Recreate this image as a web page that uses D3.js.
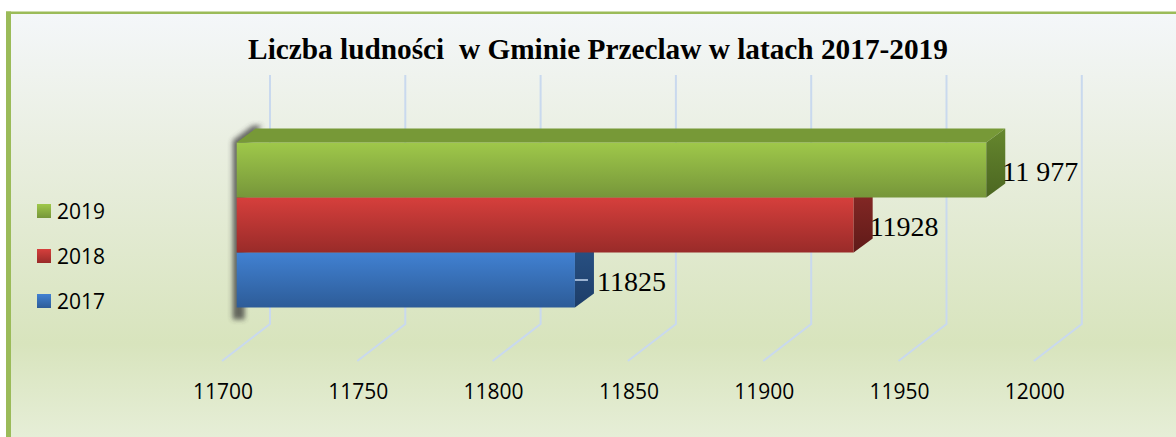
<!DOCTYPE html>
<html>
<head>
<meta charset="utf-8">
<script src="https://cdn.jsdelivr.net/npm/d3@7"></script>
<style>
  html, body { margin: 0; padding: 0; background: #fff; }
  svg { display: block; }
</style>
</head>
<body>
<div id="containerDiv"></div>
<script>
// chart data
const years = ["2019", "2018", "2017"];
const population = [11977, 11928, 11825];
const valueLabels = ["11 977", "11928", "11825"];
const axisTicks = [11700, 11750, 11800, 11850, 11900, 11950, 12000];
const leaderYears = ["2017"]; // labels drawn with a small leader dash
const titleText = "Liczba ludności  w Gminie Przeclaw w latach 2017-2019";

// colours per year: [front top, front bottom, top face, side top, side bottom]
const colors = {
  "2019": ["#9fc84a", "#76963a", "#779937", "#66872e", "#4b6621"],
  "2018": ["#d63f3c", "#992b29", "#a8302d", "#8a2a27", "#5f1a18"],
  "2017": ["#4181d2", "#2d5c98", "#30609c", "#2a5488", "#1d3d68"],
};

const W = 1176, H = 437;
// depth offsets of the 3d box and of the floor
const depthX = 19, depthY = 14;
const wallX = 33.3, floorX = 48, floorY = 37;
const wallTop = 75, wallBottom = 324;

const svg = d3
  .select("#containerDiv")
  .append("svg")
  .attr("width", W)
  .attr("height", H);

const defs = svg.append("defs");

// background gradient
const bg = defs
  .append("linearGradient")
  .attr("id", "bgGrad")
  .attr("x1", 0).attr("y1", 0).attr("x2", 0).attr("y2", 1);
[
  [0, "#f4f7fa"],
  [0.3, "#eaefe2"],
  [0.78, "#d8e4bd"],
  [1, "#e6eed7"],
].forEach((s) => bg.append("stop").attr("offset", s[0]).attr("stop-color", s[1]));

// gradients for bars
years.forEach((y) => {
  const c = colors[y];
  const f = defs.append("linearGradient").attr("id", "front" + y)
    .attr("x1", 0).attr("y1", 0).attr("x2", 0).attr("y2", 1);
  f.append("stop").attr("offset", 0).attr("stop-color", c[0]);
  f.append("stop").attr("offset", 1).attr("stop-color", c[1]);
  const s = defs.append("linearGradient").attr("id", "side" + y)
    .attr("x1", 0).attr("y1", 0).attr("x2", 0).attr("y2", 1);
  s.append("stop").attr("offset", 0).attr("stop-color", c[3]);
  s.append("stop").attr("offset", 1).attr("stop-color", c[4]);
});

const blur = defs.append("filter").attr("id", "shadowBlur")
  .attr("x", "-50%").attr("y", "-20%").attr("width", "200%").attr("height", "140%");
blur.append("feGaussianBlur").attr("stdDeviation", 2.5);

// frame and background
svg.append("rect")
  .attr("x", 6).attr("y", 12)
  .attr("width", W - 6).attr("height", H - 12)
  .attr("fill", "url(#bgGrad)");
svg.append("rect")
  .attr("x", 6).attr("y", 11.5).attr("width", W - 6).attr("height", 2.5)
  .attr("fill", "#9bbb59");
svg.append("rect")
  .attr("x", 6).attr("y", 11.5).attr("width", 5).attr("height", H - 11.5)
  .attr("fill", "#9bbb59");

// title
svg.append("text")
  .attr("x", 598)
  .attr("y", 59)
  .attr("text-anchor", "middle")
  .style("white-space", "pre")
  .style("font-family", "'Liberation Serif', 'Times New Roman', serif")
  .style("font-weight", "bold")
  .style("font-size", "29.3px")
  .attr("fill", "#000")
  .text(titleText);

// scales (front face of the bars)
const xScale = d3.scaleLinear().domain([11700, 12000]).range([236.7, 1048.5]);
const yScale = d3.scaleBand().domain(years).range([142.5, 307.5]).padding(0);

// gridlines on back wall and floor
svg.append("g")
  .selectAll("path")
  .data(axisTicks)
  .enter()
  .append("path")
  .attr("d", (d) => {
    const xb = xScale(d) + wallX;
    return `M${xb},${wallTop}V${wallBottom}L${xb - floorX},${wallBottom + floorY}`;
  })
  .attr("fill", "none")
  .attr("stroke", "#c9d9ee")
  .attr("stroke-width", 2);

// axis labels
svg.append("g")
  .selectAll("text")
  .data(axisTicks)
  .enter()
  .append("text")
  .attr("x", (d) => xScale(d) + wallX - floorX + 1)
  .attr("y", 399)
  .attr("text-anchor", "middle")
  .style("font-family", "'Open Sans', 'Liberation Sans', sans-serif")
  .style("font-size", "21px")
  .attr("fill", "#000")
  .text((d) => d);

// shadow behind the bars
const x0 = xScale(11700);
const barTop = yScale(years[0]);
const barBottom = yScale(years[years.length - 1]) + yScale.bandwidth();
svg.append("path")
  .attr("d", `M${x0 - 4},${barTop - 2}L${x0 + depthX - 3},${barTop - depthY - 3}L${x0 + depthX + 6},${barTop - depthY - 3}L${x0 + 8},${barTop + 6}L${x0 + 8},${barBottom + 12}L${x0 - 4},${barBottom + 12}Z`)
  .attr("fill", "#3a3a3a")
  .attr("opacity", 0.75)
  .attr("filter", "url(#shadowBlur)");

// bars, drawn bottom first so upper bars cover hidden faces
const bars = svg.append("g")
  .selectAll("g.bar")
  .data(years.map((y, i) => ({ year: y, value: population[i], label: valueLabels[i] })).reverse())
  .enter()
  .append("g")
  .attr("class", "bar");

bars.append("rect")
  .attr("x", x0)
  .attr("y", (d) => yScale(d.year))
  .attr("width", (d) => xScale(d.value) - x0)
  .attr("height", yScale.bandwidth())
  .attr("fill", (d) => `url(#front${d.year})`);

// top face
bars.append("path")
  .attr("d", (d) => {
    const y = yScale(d.year), x1 = xScale(d.value);
    return `M${x0},${y}L${x0 + depthX},${y - depthY}L${x1 + depthX},${y - depthY}L${x1},${y}Z`;
  })
  .attr("fill", (d) => colors[d.year][2]);

// side face
bars.append("path")
  .attr("d", (d) => {
    const y = yScale(d.year), x1 = xScale(d.value), h = yScale.bandwidth();
    return `M${x1},${y}L${x1 + depthX},${y - depthY}L${x1 + depthX},${y + h - depthY}L${x1},${y + h}Z`;
  })
  .attr("fill", (d) => `url(#side${d.year})`);

// leader dash for some labels
bars.filter((d) => leaderYears.includes(d.year))
  .append("line")
  .attr("x1", (d) => xScale(d.value))
  .attr("x2", (d) => xScale(d.value) + 13)
  .attr("y1", (d) => yScale(d.year) + yScale.bandwidth() / 2)
  .attr("y2", (d) => yScale(d.year) + yScale.bandwidth() / 2)
  .attr("stroke", "#c6d9f1")
  .attr("stroke-width", 1.5);

// value labels
bars.append("text")
  .attr("x", (d) => xScale(d.value) + 16 + (leaderYears.includes(d.year) ? 6 : 0))
  .attr("y", (d) => yScale(d.year) + yScale.bandwidth() / 2 + 11)
  .style("white-space", "pre")
  .style("font-family", "'Liberation Serif', 'Times New Roman', serif")
  .style("font-size", "28px")
  .attr("fill", "#000")
  .text((d) => d.label);

// legend
const legend = svg.append("g")
  .selectAll("g")
  .data(years)
  .enter()
  .append("g")
  .attr("transform", (d, i) => `translate(37,${211 + i * 45})`);
legend.append("rect")
  .attr("x", 0).attr("y", -7)
  .attr("width", 14).attr("height", 14)
  .attr("fill", (d) => `url(#front${d})`);
legend.append("text")
  .attr("x", 20)
  .attr("y", 7.5)
  .style("font-family", "'Open Sans', 'Liberation Sans', sans-serif")
  .style("font-size", "21px")
  .attr("fill", "#000")
  .text((d) => d);
</script>
</body>
</html>
